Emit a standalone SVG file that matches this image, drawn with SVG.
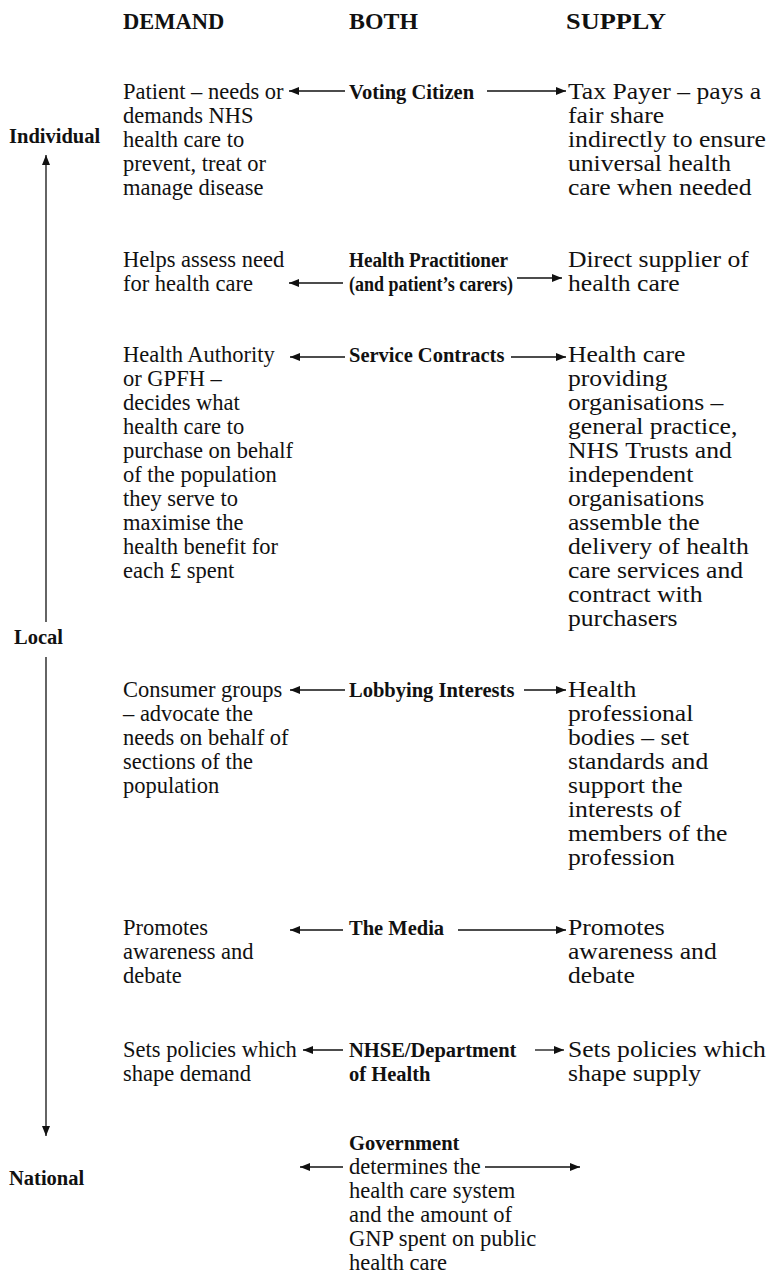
<svg xmlns="http://www.w3.org/2000/svg" width="769" height="1276" viewBox="0 0 769 1276">
<style>
text{font-family:"Liberation Serif","Times New Roman",serif;fill:#111;}
.t{font-size:22.5px;}
.b{font-size:20.5px;font-weight:bold;}
.h{font-size:22.5px;font-weight:bold;}
.c line{stroke:#111;stroke-width:1.3;fill:none;}
</style>
<defs>
<marker id="ah" viewBox="0 0 10 8" refX="10" refY="4" markerWidth="11" markerHeight="8" markerUnits="userSpaceOnUse" orient="auto"><path d="M0,0 L10,4 L0,8 z" fill="#111"/></marker>
</defs>
<rect width="769" height="1276" fill="#fff"/>
<g id="headers">
<text class="h" x="123" y="29">DEMAND</text>
<text class="h" x="349" y="29" textLength="69" lengthAdjust="spacingAndGlyphs">BOTH</text>
<text class="h" x="566" y="29" textLength="100" lengthAdjust="spacingAndGlyphs">SUPPLY</text>
</g>
<g id="levels">
<text class="b" x="9" y="143">Individual</text>
<text class="b" x="14" y="644">Local</text>
<text class="b" x="9" y="1185">National</text>
</g>
<g id="row1-demand"><text class="t" x="123" y="99">Patient – needs or<tspan x="123" dy="24">demands NHS</tspan><tspan x="123" dy="24">health care to</tspan><tspan x="123" dy="24">prevent, treat or</tspan><tspan x="123" dy="24">manage disease</tspan></text></g>
<g id="row1-both"><text class="b" x="349" y="99">Voting Citizen</text></g>
<g id="row1-supply" transform="translate(568,0) scale(1.14,1) translate(-568,0)"><text class="t" x="568" y="99">Tax Payer – pays a<tspan x="568" dy="24">fair share</tspan><tspan x="568" dy="24">indirectly to ensure</tspan><tspan x="568" dy="24">universal health</tspan><tspan x="568" dy="24">care when needed</tspan></text></g>
<g id="row2-demand"><text class="t" x="123" y="267">Helps assess need<tspan x="123" dy="24">for health care</tspan></text></g>
<g id="row2-both"><text class="b" x="349" y="267" textLength="159" lengthAdjust="spacingAndGlyphs">Health Practitioner</text><text class="b" x="349" y="291" textLength="164" lengthAdjust="spacingAndGlyphs">(and patient’s carers)</text></g>
<g id="row2-supply" transform="translate(568,0) scale(1.14,1) translate(-568,0)"><text class="t" x="568" y="267">Direct supplier of<tspan x="568" dy="24">health care</tspan></text></g>
<g id="row3-demand"><text class="t" x="123" y="362">Health Authority<tspan x="123" dy="24">or GPFH –</tspan><tspan x="123" dy="24">decides what</tspan><tspan x="123" dy="24">health care to</tspan><tspan x="123" dy="24">purchase on behalf</tspan><tspan x="123" dy="24">of the population</tspan><tspan x="123" dy="24">they serve to</tspan><tspan x="123" dy="24">maximise the</tspan><tspan x="123" dy="24">health benefit for</tspan><tspan x="123" dy="24">each £ spent</tspan></text></g>
<g id="row3-both"><text class="b" x="349" y="362">Service Contracts</text></g>
<g id="row3-supply" transform="translate(568,0) scale(1.14,1) translate(-568,0)"><text class="t" x="568" y="362">Health care<tspan x="568" dy="24">providing</tspan><tspan x="568" dy="24">organisations –</tspan><tspan x="568" dy="24">general practice,</tspan><tspan x="568" dy="24">NHS Trusts and</tspan><tspan x="568" dy="24">independent</tspan><tspan x="568" dy="24">organisations</tspan><tspan x="568" dy="24">assemble the</tspan><tspan x="568" dy="24">delivery of health</tspan><tspan x="568" dy="24">care services and</tspan><tspan x="568" dy="24">contract with</tspan><tspan x="568" dy="24">purchasers</tspan></text></g>
<g id="row4-demand"><text class="t" x="123" y="697">Consumer groups<tspan x="123" dy="24">– advocate the</tspan><tspan x="123" dy="24">needs on behalf of</tspan><tspan x="123" dy="24">sections of the</tspan><tspan x="123" dy="24">population</tspan></text></g>
<g id="row4-both"><text class="b" x="349" y="697">Lobbying Interests</text></g>
<g id="row4-supply" transform="translate(568,0) scale(1.14,1) translate(-568,0)"><text class="t" x="568" y="697">Health<tspan x="568" dy="24">professional</tspan><tspan x="568" dy="24">bodies – set</tspan><tspan x="568" dy="24">standards and</tspan><tspan x="568" dy="24">support the</tspan><tspan x="568" dy="24">interests of</tspan><tspan x="568" dy="24">members of the</tspan><tspan x="568" dy="24">profession</tspan></text></g>
<g id="row5-demand"><text class="t" x="123" y="935">Promotes<tspan x="123" dy="24">awareness and</tspan><tspan x="123" dy="24">debate</tspan></text></g>
<g id="row5-both"><text class="b" x="349" y="935">The Media</text></g>
<g id="row5-supply" transform="translate(568,0) scale(1.14,1) translate(-568,0)"><text class="t" x="568" y="935">Promotes<tspan x="568" dy="24">awareness and</tspan><tspan x="568" dy="24">debate</tspan></text></g>
<g id="row6-demand"><text class="t" x="123" y="1057">Sets policies which<tspan x="123" dy="24">shape demand</tspan></text></g>
<g id="row6-both"><text class="b" x="349" y="1057">NHSE/Department<tspan x="349" dy="24">of Health</tspan></text></g>
<g id="row6-supply" transform="translate(568,0) scale(1.14,1) translate(-568,0)"><text class="t" x="568" y="1057">Sets policies which<tspan x="568" dy="24">shape supply</tspan></text></g>
<g id="row7-both"><text class="b" x="349" y="1150">Government</text><text class="t" x="349" y="1174">determines the<tspan x="349" dy="24">health care system</tspan><tspan x="349" dy="24">and the amount of</tspan><tspan x="349" dy="24">GNP spent on public</tspan><tspan x="349" dy="24">health care</tspan></text></g>
<g id="connectors" class="c">
<line x1="46" y1="622" x2="46" y2="155" marker-end="url(#ah)"/>
<line x1="46" y1="657" x2="46" y2="1136" marker-end="url(#ah)"/>
<line x1="345" y1="91" x2="289" y2="91" marker-end="url(#ah)"/>
<line x1="487" y1="91" x2="566" y2="91" marker-end="url(#ah)"/>
<line x1="343" y1="283" x2="289" y2="283" marker-end="url(#ah)"/>
<line x1="517" y1="278" x2="562" y2="278" marker-end="url(#ah)"/>
<line x1="345" y1="357" x2="290" y2="357" marker-end="url(#ah)"/>
<line x1="511" y1="357" x2="566" y2="357" marker-end="url(#ah)"/>
<line x1="345" y1="690" x2="290" y2="690" marker-end="url(#ah)"/>
<line x1="524" y1="690" x2="566" y2="690" marker-end="url(#ah)"/>
<line x1="343" y1="930" x2="290" y2="930" marker-end="url(#ah)"/>
<line x1="458" y1="930" x2="566" y2="930" marker-end="url(#ah)"/>
<line x1="343" y1="1050" x2="303" y2="1050" marker-end="url(#ah)"/>
<line x1="535" y1="1050" x2="564" y2="1050" marker-end="url(#ah)"/>
<line x1="343" y1="1167" x2="300" y2="1167" marker-end="url(#ah)"/>
<line x1="485" y1="1167" x2="580" y2="1167" marker-end="url(#ah)"/>
</g>
</svg>
